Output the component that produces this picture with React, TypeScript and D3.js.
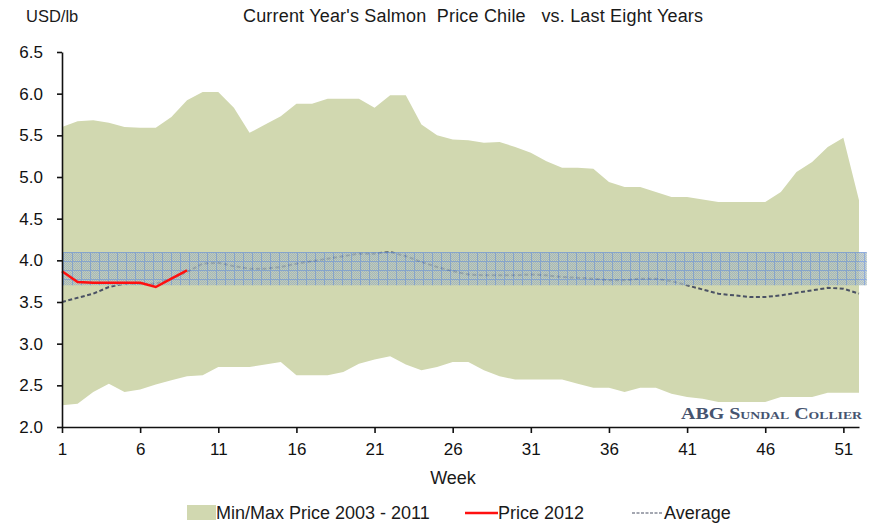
import React, { useEffect, useRef } from "react";
import * as d3 from "d3";

const W = 876;
const H = 524;
const margin = { top: 52, right: 17, bottom: 97, left: 62 };

const weeks: number[] = d3.range(1, 53);
const xTickValues = [1, 6, 11, 16, 21, 26, 31, 36, 41, 46, 51];
const yTickValues = [2.0, 2.5, 3.0, 3.5, 4.0, 4.5, 5.0, 5.5, 6.0, 6.5];

// min/max 2003 - 2011, weeks 1..52
const maxPrice = [
  5.6, 5.67, 5.68, 5.65, 5.6, 5.59, 5.59, 5.72, 5.92, 6.02, 6.02, 5.83, 5.53,
  5.63, 5.73, 5.88, 5.88, 5.94, 5.94, 5.94, 5.83, 5.98, 5.98, 5.63, 5.5, 5.45,
  5.44, 5.41, 5.42, 5.36, 5.29, 5.19, 5.11, 5.11, 5.1, 4.94, 4.88, 4.88, 4.82,
  4.76, 4.76, 4.73, 4.7, 4.7, 4.7, 4.7, 4.82, 5.06, 5.18, 5.36, 5.47, 4.72,
];
const minPrice = [
  2.26, 2.28, 2.42, 2.52, 2.42, 2.45, 2.51, 2.56, 2.61, 2.62, 2.72, 2.72, 2.72,
  2.75, 2.78, 2.62, 2.62, 2.62, 2.66, 2.76, 2.81, 2.85, 2.75, 2.68, 2.72, 2.78,
  2.78, 2.68, 2.61, 2.57, 2.57, 2.57, 2.57, 2.52, 2.47, 2.47, 2.42, 2.47, 2.47,
  2.4, 2.36, 2.34, 2.3, 2.3, 2.3, 2.3, 2.36, 2.36, 2.36, 2.41, 2.41, 2.41,
];
const avgPrice = [
  3.5, 3.55, 3.6, 3.68, 3.72, 3.72, 3.72, 3.78, 3.86, 3.96, 3.97, 3.93, 3.9,
  3.9, 3.92, 3.96, 3.99, 4.02, 4.05, 4.08, 4.08, 4.1, 4.05, 3.98, 3.92, 3.87,
  3.83, 3.82, 3.82, 3.82, 3.83, 3.82, 3.8, 3.79, 3.78, 3.76, 3.76, 3.78, 3.78,
  3.75, 3.7, 3.65, 3.6, 3.58, 3.56, 3.56, 3.58, 3.61, 3.64, 3.67, 3.66, 3.6,
];
const price2012 = [3.87, 3.74, 3.73, 3.73, 3.73, 3.73, 3.68, 3.78, 3.88];
const bandRange = [3.7, 4.1];

const font = "'Liberation Sans', Arial, sans-serif";

export default function App() {
  const svgRef = useRef(null);

  useEffect(() => {
    const svg = d3.select(svgRef.current);
    svg.selectAll("*").remove();

    const x = d3
      .scaleLinear()
      .domain([1, 52])
      .range([margin.left, W - margin.right]);
    const y = d3
      .scaleLinear()
      .domain([2, 6.5])
      .range([H - margin.bottom, margin.top]);

    const defs = svg.append("defs");
    const dither = defs
      .append("pattern")
      .attr("id", "dither")
      .attr("width", 2)
      .attr("height", 2)
      .attr("patternUnits", "userSpaceOnUse");
    dither.append("rect").attr("width", 2).attr("height", 2).attr("fill", "#92aac6");
    dither.append("rect").attr("width", 1).attr("height", 1).attr("fill", "#c6cfb0");
    dither.append("rect").attr("x", 1).attr("y", 1).attr("width", 1).attr("height", 1).attr("fill", "#bcc8b8");

    const grid = defs
      .append("pattern")
      .attr("id", "grid")
      .attr("width", 9)
      .attr("height", 9)
      .attr("patternUnits", "userSpaceOnUse");
    grid.append("rect").attr("width", 9).attr("height", 9).attr("fill", "url(#dither)");
    grid.append("rect").attr("width", 9).attr("height", 1).attr("fill", "#6f95d2");
    grid.append("rect").attr("width", 1).attr("height", 9).attr("fill", "#6f95d2");

    const rows = weeks.map((w, i) => ({ w, lo: minPrice[i], hi: maxPrice[i], avg: avgPrice[i] }));

    // min/max range
    svg
      .append("path")
      .datum(rows)
      .attr("fill", "#d1d8b0")
      .attr(
        "d",
        d3
          .area<any>()
          .x((d) => x(d.w))
          .y0((d) => y(d.lo))
          .y1((d) => y(d.hi))
      );

    // average
    svg
      .append("path")
      .datum(rows)
      .attr("fill", "none")
      .attr("stroke", "#4a5164")
      .attr("stroke-width", 2)
      .attr("stroke-dasharray", "4,2.5")
      .attr(
        "d",
        d3
          .line<any>()
          .x((d) => x(d.w))
          .y((d) => y(d.avg))
      );

    // highlighted band
    svg
      .append("rect")
      .attr("x", x(1))
      .attr("width", x(52.5) - x(1))
      .attr("y", y(bandRange[1]))
      .attr("height", y(bandRange[0]) - y(bandRange[1]))
      .attr("fill", "url(#grid)")
      .attr("opacity", 0.78);

    // 2012 price
    svg
      .append("path")
      .datum(price2012)
      .attr("fill", "none")
      .attr("stroke", "#ff1010")
      .attr("stroke-width", 2.5)
      .attr(
        "d",
        d3
          .line<number>()
          .x((d, i) => x(weeks[i]))
          .y((d) => y(d))
      );

    // watermark
    svg
      .append("text")
      .attr("x", 681)
      .attr("y", 419)
      .attr("font-family", "'Liberation Serif', 'Times New Roman', serif")
      .attr("font-weight", "bold")
      .attr("font-size", 16)
      .attr("font-variant", "small-caps")
      .attr("fill", "#46546f")
      .attr("textLength", 181)
      .attr("lengthAdjust", "spacingAndGlyphs")
      .text("ABG Sundal Collier");

    // axes
    const xAxis = svg
      .append("g")
      .attr("transform", `translate(0,${H - margin.bottom})`)
      .call(
        d3
          .axisBottom(x)
          .tickValues(xTickValues)
          .tickFormat(d3.format("d"))
          .tickSize(6)
          .tickSizeOuter(0)
          .tickPadding(10)
      );
    const yAxis = svg
      .append("g")
      .attr("transform", `translate(${margin.left},0)`)
      .call(
        d3
          .axisLeft(y)
          .tickValues(yTickValues)
          .tickFormat(d3.format(".1f"))
          .tickSize(5)
          .tickSizeOuter(0)
          .tickPadding(14)
      );
    [xAxis, yAxis].forEach((g) => {
      g.selectAll("path, line").attr("stroke", "#111").attr("stroke-width", 1.6);
      g.selectAll("text")
        .attr("font-family", font)
        .attr("font-size", 17)
        .attr("fill", "#111");
    });

    // texts
    const addText = (t: string, px: number, py: number, anchor = "start", size = 18) =>
      svg
        .append("text")
        .attr("x", px)
        .attr("y", py)
        .attr("text-anchor", anchor)
        .attr("font-family", font)
        .attr("font-size", size)
        .attr("fill", "#1a1a1a")
        .style("white-space", "pre")
        .text(t);

    addText("USD/lb", 26, 22, "start", 16.5);
    addText("Current Year's Salmon  Price Chile   vs. Last Eight Years", 243, 22)
      .attr("textLength", 460)
      .attr("lengthAdjust", "spacing");
    addText("Week", 453, 484, "middle");

    // legend
    const ly = 519;
    svg.append("rect").attr("x", 187).attr("y", 505).attr("width", 29).attr("height", 15).attr("fill", "#d1d8b0");
    addText("Min/Max Price 2003 - 2011", 216, ly);
    svg
      .append("line")
      .attr("x1", 465)
      .attr("x2", 498)
      .attr("y1", 513)
      .attr("y2", 513)
      .attr("stroke", "#ff1010")
      .attr("stroke-width", 2.5);
    addText("Price 2012", 498, ly);
    svg
      .append("line")
      .attr("x1", 632)
      .attr("x2", 662)
      .attr("y1", 513)
      .attr("y2", 513)
      .attr("stroke", "#4a5164")
      .attr("stroke-width", 1.2)
      .attr("stroke-dasharray", "3,1.5");
    addText("Average", 664, ly);
  }, []);

  return (
    <svg
      ref={svgRef}
      width={W}
      height={H}
      style={{ position: "absolute", left: 0, top: 0, background: "#fff" }}
    ></svg>
  );
}
